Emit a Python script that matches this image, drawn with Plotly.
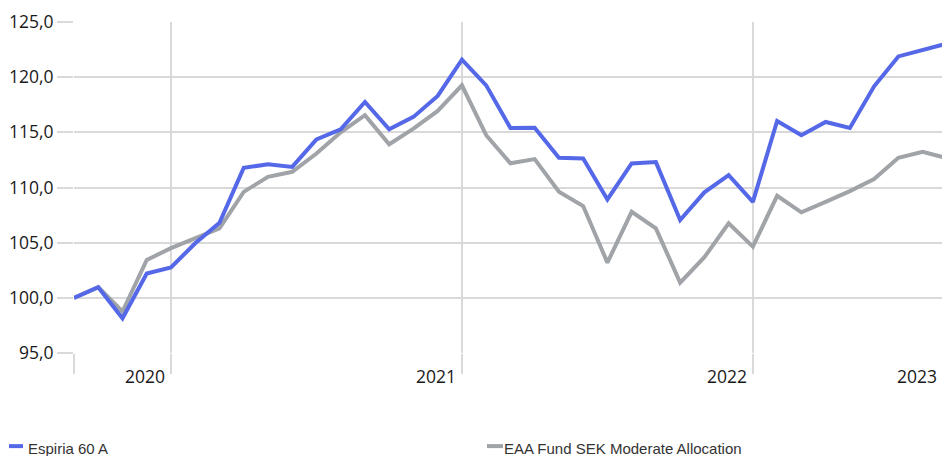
import plotly.graph_objects as go

# Monthly observation index (0 = first month of the series)
month_index = list(range(37))

espiria_60a = [100.0, 100.96, 98.15, 102.2, 102.75, 104.95, 106.8, 111.78, 112.1, 111.87,
               114.35, 115.28, 117.75, 115.28, 116.4, 118.3, 121.58, 119.26, 115.4, 115.42,
               112.69, 112.63, 108.92, 112.18, 112.3, 107.05, 109.56, 111.12, 108.7, 116.03,
               114.74, 115.94, 115.4, 119.17, 121.88, 122.51, 123.05]

eaa_moderate = [100.0, 100.96, 98.76, 103.43, 104.5, 105.4, 106.3, 109.6, 110.97, 111.42,
                113.08, 115.0, 116.55, 113.92, 115.34, 116.94, 119.26, 114.74, 112.2, 112.57,
                109.61, 108.32, 103.19, 107.8, 106.3, 101.38, 103.68, 106.75, 104.64, 109.25,
                107.75, 108.7, 109.67, 110.76, 112.69, 113.23, 112.66]

year_tick_index = [4, 16, 28]
year_labels = ["2020", "2021", "2022"]
last_year_label = "2023"
y_ticks = [95, 100, 105, 110, 115, 120, 125]

series_names = ["Espiria 60 A", "EAA Fund SEK Moderate Allocation"]

BLUE = "#5468e8"
GRAY = "#a0a3a7"
GRID = "#d9d9d9"
TICK_FONT = dict(family="Open Sans, Noto Sans, sans-serif", size=17.5, color="#1a1a1a")
LEG_FONT = dict(family="Liberation Sans, Arial, sans-serif", size=15, color="#333333")

fig = go.Figure()
fig.add_trace(go.Scatter(x=month_index, y=eaa_moderate, mode="lines", name=series_names[1],
                         line=dict(color=GRAY, width=4), showlegend=False))
fig.add_trace(go.Scatter(x=month_index, y=espiria_60a, mode="lines", name=series_names[0],
                         line=dict(color=BLUE, width=4), showlegend=False))

W, H = 942, 456
L, T, B = 74, 22, 456 - 353.3
plot_w = W - L
plot_h = H - T - B

def px_x(p):
    return (p - L) / plot_w

def px_y(p):
    return (353.3 - p) / plot_h

annotations = []
for xi, lab in zip(year_tick_index, year_labels):
    annotations.append(dict(x=xi, xref="x", y=0, yref="paper", text=lab, showarrow=False,
                            xanchor="right", yanchor="middle", xshift=-4, yshift=-23, font=TICK_FONT))
annotations.append(dict(x=1, xref="paper", y=0, yref="paper", text=last_year_label, showarrow=False,
                        xanchor="right", yanchor="middle", xshift=-3, yshift=-23, font=TICK_FONT))

# legend (swatch + label)
legend_items = [(series_names[0], BLUE, 9, 23, 25.5), (series_names[1], GRAY, 487, 503, 502)]
shapes = []
for name, col, sx0, sx1, tx in legend_items:
    shapes.append(dict(type="line", xref="paper", yref="paper", x0=px_x(sx0), x1=px_x(sx1),
                       y0=px_y(446.5), y1=px_y(446.5), line=dict(color=col, width=4)))
    annotations.append(dict(x=px_x(tx), xref="paper", y=px_y(448.5), yref="paper", text=name,
                            showarrow=False, xanchor="left", yanchor="middle", font=LEG_FONT))

fig.update_layout(
    width=W, height=H,
    margin=dict(l=L, r=0, t=T, b=B, pad=0),
    plot_bgcolor="white", paper_bgcolor="white",
    separators=", ",
    annotations=annotations,
    shapes=shapes,
    showlegend=False,
)
fig.update_xaxes(range=[0, 35.8], tickvals=[0] + year_tick_index, showticklabels=False,
                 showgrid=True, gridcolor=GRID, gridwidth=2,
                 ticks="outside", ticklen=20, tickwidth=2, tickcolor=GRID,
                 zeroline=False, showline=False)
fig.update_yaxes(range=[95, 125], tickvals=y_ticks, tickformat=".1f",
                 showgrid=True, gridcolor=GRID, gridwidth=2,
                 ticks="outside", ticklen=16, tickwidth=2, tickcolor=GRID,
                 zeroline=False, showline=False, tickfont=TICK_FONT)

fig.write_html("out.html", config={"displayModeBar": False},
               post_script="document.body.style.margin='0';document.body.style.overflow='hidden';")
